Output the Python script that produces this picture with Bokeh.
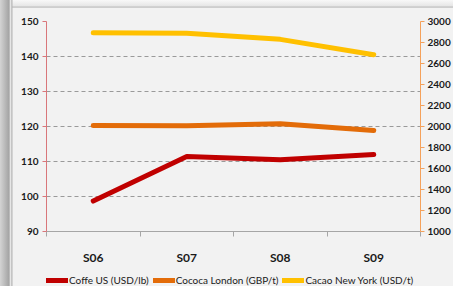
from bokeh.plotting import figure
from bokeh.models import Range1d, LinearAxis, FixedTicker, Legend, LegendItem
from bokeh.layouts import column
from bokeh.embed import file_html
from bokeh.resources import INLINE

categories = ["S06", "S07", "S08", "S09"]
coffee_us = [98.7, 111.4, 110.5, 112.0]          # USD/lb, left axis
cocoa_london = [2010, 2007, 2026, 1962]          # GBP/t, right axis
cacao_ny = [2892, 2888, 2830, 2684]              # USD/t, right axis
left_ticks = [90, 100, 110, 120, 130, 140, 150]
right_ticks = [1000, 1200, 1400, 1600, 1800, 2000, 2200, 2400, 2600, 2800, 3000]
series_names = ["Coffe US (USD/lb)", "Cococa London (GBP/t)", "Cacao New York (USD/t)"]
series_colors = ["#c00000", "#e36c09", "#ffc000"]

xpos = [i + 0.5 for i in range(len(categories))]
bounds = [float(i) for i in range(len(categories) + 1)]

FONT = "Lato"
TXT = "#1a1a1a"

panel_css = {
    "background": (
        "linear-gradient(to right, #d4d4d4 0px, #a4a4a4 9px, #e6e6e6 10.5px, #b4b4b4 12px, rgba(0,0,0,0) 13px), "
        "linear-gradient(to bottom, #f8f8f8 0px, #e6e6e6 6px, #bcbcbc 7px, rgba(0,0,0,0) 8.5px), "
        "#f2f2f2"
    )
}

p = figure(width=453, height=268, x_range=Range1d(0, len(categories)),
           y_range=Range1d(left_ticks[0], left_ticks[-1]),
           output_backend="svg", toolbar_location=None,
           min_border_left=46, min_border_right=23, min_border_top=21, min_border_bottom=37,
           background_fill_color="#f2f2f2", border_fill_alpha=0,
           outline_line_color=None)
p.extra_y_ranges = {"right": Range1d(right_ticks[0], right_ticks[-1])}

# left axis
ya = p.yaxis[0]
ya.ticker = FixedTicker(ticks=left_ticks)
ya.axis_line_color = "#d9767a"
ya.major_tick_line_color = "#d9767a"
ya.major_tick_out = 4
ya.major_tick_in = 0
ya.minor_tick_line_color = None
ya.major_label_text_font = FONT
ya.major_label_text_font_style = "bold"
ya.major_label_text_font_size = "10px"
ya.major_label_text_color = TXT
ya.major_label_standoff = 4

# right axis
ra = LinearAxis(y_range_name="right", ticker=FixedTicker(ticks=right_ticks))
ra.axis_line_color = "#f5a15a"
ra.major_tick_line_color = "#f5a15a"
ra.major_tick_out = 4
ra.major_tick_in = 0
ra.minor_tick_line_color = None
ra.major_label_text_font = FONT
ra.major_label_text_font_style = "bold"
ra.major_label_text_font_size = "10px"
ra.major_label_text_color = TXT
ra.major_label_standoff = 3
p.add_layout(ra, "right")

# bottom axis (ticks between categories, labels at category centres)
xa = p.xaxis[0]
xa.ticker = FixedTicker(ticks=xpos, minor_ticks=bounds)
xa.major_label_overrides = {x: c for x, c in zip(xpos, categories)}
xa.axis_line_color = "#a6a6a6"
xa.major_tick_line_color = None
xa.major_tick_out = 0
xa.major_tick_in = 0
xa.minor_tick_line_color = "#a6a6a6"
xa.minor_tick_out = 5
xa.minor_tick_in = 0
xa.major_label_text_font = FONT
xa.major_label_text_font_style = "bold"
xa.major_label_text_font_size = "12px"
xa.major_label_text_color = TXT
xa.major_label_standoff = 13

p.xgrid.grid_line_color = None
p.ygrid.ticker = FixedTicker(ticks=left_ticks)
p.ygrid.grid_line_color = "#9a9a9a"
p.ygrid.grid_line_dash = "4 3"
p.ygrid.grid_line_width = 1

series = [coffee_us, cocoa_london, cacao_ny]
range_names = ["default", "right", "right"]
for vals, col, rn in zip(series, series_colors, range_names):
    p.line(xpos, vals, line_color=col, line_width=5, line_cap="round", line_join="round",
           y_range_name=rn)

# legend strip below the chart (its own lines lie outside its ranges, so only the legend shows)
lg = figure(width=453, height=18, x_range=Range1d(0, 1), y_range=Range1d(0, 1),
            x_axis_location=None, y_axis_location=None, toolbar_location=None,
            output_backend="svg", min_border=0, outline_line_color=None,
            background_fill_alpha=0, border_fill_alpha=0)
lg.grid.visible = False
items = []
for name, vals, col in zip(series_names, series, series_colors):
    r = lg.line(xpos, vals, line_color=col, line_width=5, line_cap="round")
    items.append(LegendItem(label=name, renderers=[r]))

legend = Legend(items=items, orientation="horizontal", location=(0, 0),
                label_text_font=FONT, label_text_font_size="10px", label_text_color=TXT,
                glyph_width=22, glyph_height=8, label_standoff=1, spacing=4,
                padding=0, margin=0, border_line_color=None, background_fill_alpha=0,
                label_height=12)
lg.add_layout(legend, "center")

layout = column(p, lg, spacing=0, styles=panel_css)

open("out.html", "w").write(file_html(layout, INLINE))
